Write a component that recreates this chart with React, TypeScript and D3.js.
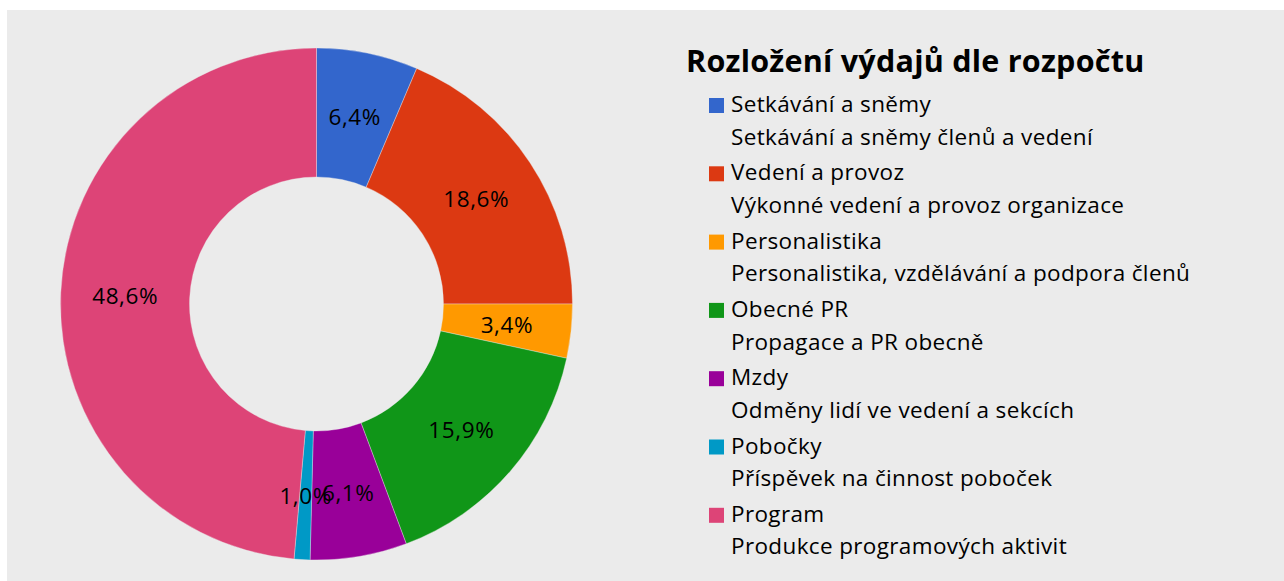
import React, { useEffect } from "react";
import * as d3 from "d3";

const categories = ["Setkávání a sněmy", "Vedení a provoz", "Personalistika", "Obecné PR", "Mzdy", "Pobočky", "Program"];
const descriptions = [
  "Setkávání a sněmy členů a vedení",
  "Výkonné vedení a provoz organizace",
  "Personalistika, vzdělávání a podpora členů",
  "Propagace a PR obecně",
  "Odměny lidí ve vedení a sekcích",
  "Příspěvek na činnost poboček",
  "Produkce programových aktivit",
];
const values = [6.4, 18.6, 3.4, 15.9, 6.1, 1.0, 48.6];
const colors = ["#3366cc", "#dc3912", "#ff9900", "#109618", "#990099", "#0099c6", "#dd4477"];
const title = "Rozložení výdajů dle rozpočtu";

const W = 1284;
const H = 581;
const FONT = "'Open Sans', 'Noto Sans', sans-serif";

export default function App() {
  useEffect(() => {
    document.body.style.margin = "0";
  }, []);

  const cx = 316.5;
  const cy = 304;
  const outerR = 256;
  const innerR = 127;

  const pie = d3.pie<number>().sort(null).value((d) => d);
  const arcs = pie(values);
  const arcGen = d3.arc<d3.PieArcDatum<number>>().innerRadius(innerR).outerRadius(outerR);
  const fmt = (v: number) => v.toFixed(1).replace(".", ",") + "%";

  const legendX = 709;
  const legendY0 = 112;
  const legendStep = 68.3;
  const legendY = d3.scaleLinear().domain([0, 1]).range([legendY0, legendY0 + legendStep]);

  return (
    <svg width={W} height={H} style={{ display: "block" }} fontFamily={FONT}>
      <rect x={0} y={0} width={W} height={H} fill="#ffffff" />
      <rect x={7} y={10} width={W - 7} height={H - 10} fill="#ebebeb" />
      <g transform={`translate(${cx},${cy})`}>
        {arcs.map((a, i) => (
          <path key={i} d={arcGen(a) || ""} fill={colors[i]} stroke="#ebebeb" strokeWidth={0.6} strokeOpacity={0.6} />
        ))}
        {arcs.map((a, i) => {
          const [x, y] = arcGen.centroid(a);
          return (
            <text key={"l" + i} x={x} y={y} textAnchor="middle" dominantBaseline="central" fontSize={22.5} letterSpacing={0.6} fill="#000">
              {fmt(values[i])}
            </text>
          );
        })}
      </g>
      <text x={686} y={72} fontSize={30.5} fontWeight="bold" letterSpacing={0.25} fill="#000">
        {title}
      </text>
      {categories.map((c, i) => {
        const y = legendY(i);
        return (
          <g key={c}>
            <rect x={legendX} y={y - 14} width={15} height={15} fill={colors[i]} />
            <text x={731} y={y} fontSize={22.5} letterSpacing={0.36} fill="#000">
              {c}
            </text>
            <text x={731} y={y + 32.6} fontSize={22.5} letterSpacing={0.36} fill="#000">
              {descriptions[i]}
            </text>
          </g>
        );
      })}
    </svg>
  );
}
